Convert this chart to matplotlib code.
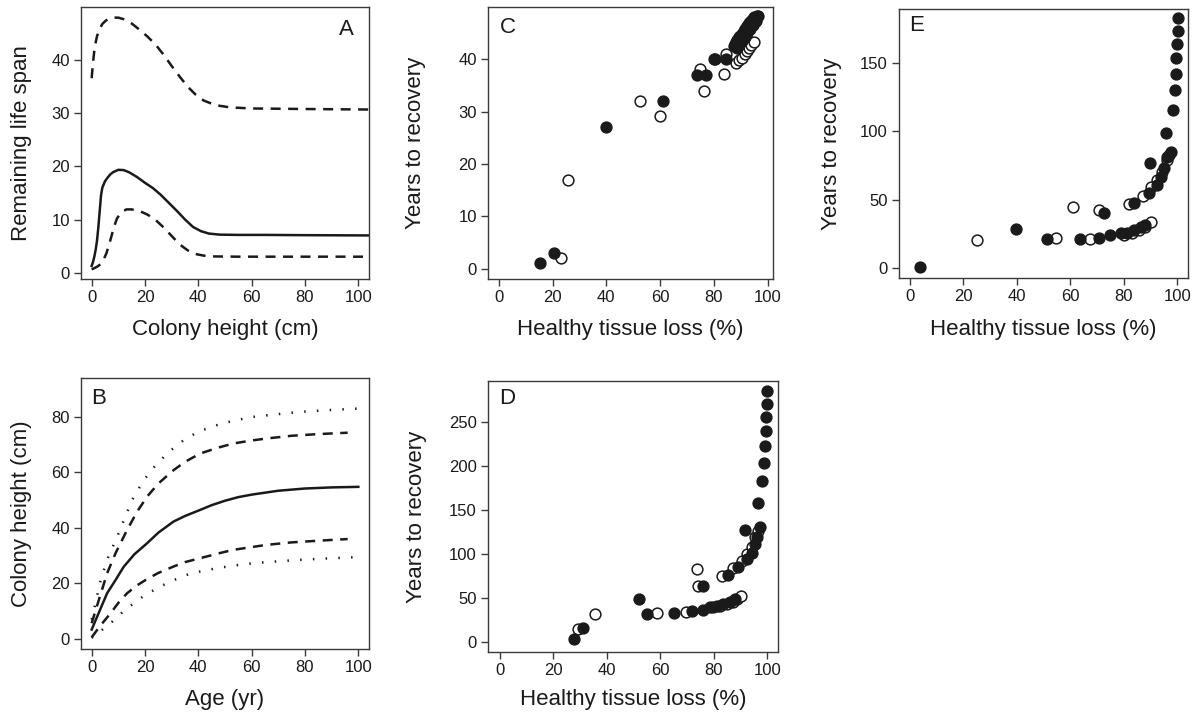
import numpy as np
import matplotlib
matplotlib.use("Agg")
import matplotlib.pyplot as plt

plt.rcParams['font.family'] = ['Liberation Sans', 'DejaVu Sans']

# Panel A: remaining life span vs colony height
a_mid_x = [0, 0.5, 1, 1.5, 2, 2.5, 3, 3.5, 4, 5, 6, 7, 8, 10, 12, 14, 17, 20, 23, 26,
           29, 32, 35, 38, 41, 44, 48, 55, 65, 80, 104]
a_mid_y = [1.25, 2, 3, 4.3, 6, 8.5, 11.5, 14.5, 16.0, 17.2, 17.9, 18.5, 18.9, 19.35, 19.3,
           18.9, 18.0, 16.9, 15.9, 14.6, 13.1, 11.6, 10.0, 8.6, 7.8, 7.35, 7.15, 7.1, 7.1,
           7.05, 7.0]
a_up_x = [0, 0.5, 1, 1.5, 2, 3, 4, 5, 6, 8, 10, 12, 15, 18, 21, 24, 27, 30, 33, 36, 39,
          42, 45, 48, 52, 60, 80, 104]
a_up_y = [36.6, 39.5, 41.8, 43.3, 44.5, 45.9, 46.8, 47.3, 47.7, 48.0, 48.0, 47.7, 46.9,
          45.7, 44.4, 42.9, 41.0, 38.9, 36.9, 35.0, 33.5, 32.4, 31.8, 31.4, 31.1, 30.9,
          30.8, 30.7]
a_lo_x = [0, 2, 3.4, 4.5, 5.5, 6.5, 7.5, 8.5, 9.5, 11, 13, 15, 18, 21, 24, 27, 30, 33,
          36, 39, 42, 46, 55, 104]
a_lo_y = [0.6, 1.1, 1.6, 2.5, 3.6, 5.2, 7.0, 8.8, 10.2, 11.3, 11.9, 11.9, 11.6, 10.9,
          9.9, 8.5, 6.9, 5.3, 4.2, 3.5, 3.2, 3.05, 3.0, 3.0]

# Panel B: colony height vs age
b_mid_x = [0, 3, 5.8, 9, 12, 16, 20.8, 25, 30.7, 35, 40.7, 45, 50, 55, 60, 70, 80, 90, 100]
b_mid = [3.4, 10.2, 16.5, 21.3, 26, 30.5, 34.5, 38.3, 42.3, 44.3, 46.5, 48.2, 49.8,
         51.1, 52, 53.4, 54.2, 54.6, 54.8]
b_dot_up_x = [0, 3.4, 6, 9.6, 13, 15.8, 20, 24.5, 30, 34.5, 40, 46.9, 53, 60.6, 70, 78, 90, 100]
b_dot_up = [7, 21.3, 29, 36.9, 45, 51.3, 57.8, 63.2, 68.2, 71.6, 74.7, 77, 78.6, 80, 81,
            81.8, 82.5, 83]
b_dash_up_x = [0, 3, 5.8, 9, 13.3, 17, 20.8, 25, 30.7, 35, 40.7, 47, 53, 60, 65.5, 75, 85, 96]
b_dash_up = [5.7, 15, 23.7, 31, 39.3, 45.8, 51.3, 56, 60.8, 63.8, 66.8, 68.8, 70.4, 71.5,
             72.2, 73.2, 73.8, 74.3]
b_dash_lo_x = [0, 3, 7.1, 10, 13.3, 17, 20.8, 25, 30.7, 35, 40.7, 47, 53, 60, 65.5, 75, 85, 96]
b_dash_lo = [0.6, 4.5, 9.3, 13, 16.5, 19.3, 21.6, 23.8, 26.1, 27.7, 29.1, 30.7, 32.1,
             33.1, 33.9, 34.8, 35.4, 36]
b_dot_lo_x = [0, 3, 7.1, 11, 15.8, 20, 25.7, 30, 35.7, 40, 46.9, 53, 60.6, 70, 78, 90, 100]
b_dot_lo = [0.4, 2.6, 5.7, 9.2, 12.9, 15.8, 18.9, 20.9, 23.1, 24.2, 25.5, 26.4, 27.3,
            28, 28.5, 29.1, 29.5]

# Panel C
c_fill_x = [15.5, 20.6, 39.8, 61, 73.6, 77.2, 80.4, 84.4,
            87.5, 87.9, 88.3, 88.7, 89.1, 89.5, 89.9, 90.3, 90.7, 91.1, 91.5, 91.9, 92.3,
            92.7, 93.1, 93.5, 93.9, 94.3, 94.7, 95.1, 95.5, 95.9, 96.3,
            88.5, 89.5, 90.5, 91.5, 92.5, 93.5, 94.5, 95.5]
c_fill_y = [1, 3, 27, 32.1, 37, 37, 40, 40,
            42.6, 43, 43.3, 43.6, 43.9, 44.2, 44.5, 44.8, 45.1, 45.4, 45.7, 46, 46.3,
            46.6, 46.9, 47.2, 47.4, 47.6, 47.8, 48, 48.1, 48.2, 48.3,
            42.2, 42.8, 43.5, 44.2, 45, 45.8, 46.6, 47.3]
c_open_x = [23.3, 25.9, 52.6, 60.1, 74.7, 76.3, 80, 83.8, 84.4, 88.2, 89.5, 90.5, 91.5,
            92.3, 93.2, 94, 94.8]
c_open_y = [2, 17, 32, 29.1, 38.1, 34, 40, 37.1, 41, 39.2, 39.8, 40.3, 41,
            41.6, 42.2, 42.8, 43.3]

# Panel D
d_fill_x = [27.7, 30.9, 52.1, 54.9, 65.2, 71.7, 75.8, 76.1, 78.6, 81, 83.5, 86, 87.9,
            85.4, 89.2, 91.6, 92.3, 94.1, 95.4, 96.3, 97.3, 96.4, 97.9, 98.9, 99.1,
            99.4, 99.5, 99.8, 99.8]
d_fill_y = [3.8, 15.9, 49.2, 32.2, 33.3, 35.2, 37.1, 64.4, 39.8, 41.7, 43.6, 46.2, 49.2,
            76.5, 85.2, 128, 94.7, 102, 111.7, 119.3, 130.7, 158.3, 183.7, 203.8, 223.1,
            240.5, 255.7, 270.8, 285.2]
d_open_x = [29.3, 35.5, 58.6, 69.6, 73.6, 74.2, 79.8, 82.3, 84.8, 87.3, 88.5, 90.1,
            82.9, 87.3, 90.4, 92.3, 94.1, 95.4, 96.6]
d_open_y = [15.2, 32.2, 33, 34.8, 83.3, 64.4, 39.8, 40.9, 43.6, 45.5, 49.2, 53,
            75.8, 84.1, 92.8, 100.4, 108, 119.3, 126.9]

# Panel E
e_fill_x = [4, 39.8, 51.3, 63.5, 70.6, 74.8, 78.8, 81.3, 83.8, 86.3, 88.1, 72.5, 83.8,
            89.4, 89.8, 92.3, 93.8, 95, 96.3, 97.5, 95.9, 98.5, 99, 99.4, 99.6, 100,
            100.3, 100.3]
e_fill_y = [1.2, 28.9, 21.1, 21.1, 21.8, 24.3, 25.5, 26, 27.9, 30.3, 31.6, 40, 47.3,
            54.6, 77, 60.7, 66.7, 72.8, 81.3, 85, 98.3, 115.3, 129.9, 141.5, 153.6, 163.3,
            173, 182.8]
e_open_x = [25.3, 54.6, 60.9, 67.5, 70.9, 80, 83.1, 85.6, 88.1, 90, 81.9, 87.1, 90,
            92.5, 94.4, 96.3, 96.9]
e_open_y = [20.6, 21.8, 44.9, 21.6, 42.5, 24.3, 26, 27.9, 30.3, 34, 46.8, 52.7, 59.5,
            64.3, 70.4, 78.9, 82.5]

W, H = 1202, 715
fig = plt.figure(figsize=(W / 100, H / 100), dpi=100)


def make_ax(px_left, px_top, px_right, px_bottom):
    ax = fig.add_axes([px_left / W, 1 - px_bottom / H,
                       (px_right - px_left) / W, (px_bottom - px_top) / H])
    for s in ax.spines.values():
        s.set_color('#3a3a3a')
        s.set_linewidth(1.0)
    ax.tick_params(direction='out', length=5, width=1.0, color='#3a3a3a',
                   labelsize=12, pad=3, labelcolor='#1a1a1a')
    ax.set_xticks([0, 20, 40, 60, 80, 100])
    return ax


def labels(ax, xl, yl, xfrac, yfrac, letter, lx, ly):
    ax.set_xlabel(xl, fontsize=16, va='center', color='#1a1a1a')
    ax.set_ylabel(yl, fontsize=16, va='center', color='#1a1a1a')
    ax.xaxis.set_label_coords(0.5, xfrac)
    ax.yaxis.set_label_coords(yfrac, 0.5)
    ax.text(lx, ly, letter, transform=ax.transAxes, fontsize=16,
            ha='center', va='center', color='#1a1a1a')


dash = (0, (4, 3))
dot = (0, (0.6, 4.5))
lw = 1.8
k = '#1a1a1a'

# A
ax = make_ax(81, 7, 369, 279)
ax.plot(a_mid_x, a_mid_y, color=k, lw=lw)
ax.plot(a_up_x, a_up_y, color=k, lw=lw, ls=dash)
ax.plot(a_lo_x, a_lo_y, color=k, lw=lw, ls=dash)
ax.set_xlim(-4, 104)
ax.set_ylim(-1.2, 50)
ax.set_yticks([0, 10, 20, 30, 40])
labels(ax, 'Colony height (cm)', 'Remaining life span', -0.1875, -0.205, 'A', 0.92, 0.919)

# B
ax = make_ax(81, 378, 369, 649)
ax.plot(b_mid_x, b_mid, color=k, lw=lw)
ax.plot(b_dot_up_x, b_dot_up, color=k, lw=lw, ls=dot)
ax.plot(b_dash_up_x, b_dash_up, color=k, lw=lw, ls=dash)
ax.plot(b_dash_lo_x, b_dash_lo, color=k, lw=lw, ls=dash)
ax.plot(b_dot_lo_x, b_dot_lo, color=k, lw=lw, ls=dot)
ax.set_xlim(-4, 104)
ax.set_ylim(-3.6, 94)
ax.set_yticks([0, 20, 40, 60, 80])
labels(ax, 'Age (yr)', 'Colony height (cm)', -0.188, -0.205, 'B', 0.0625, 0.926)

ms = 60


def pts(ax, fx, fy, ox, oy):
    ax.scatter(ox, oy, s=ms, facecolor='white', edgecolor=k, linewidth=1.1, zorder=3)
    ax.scatter(fx, fy, s=ms, facecolor=k, edgecolor=k, linewidth=1.1, zorder=4)


# C
ax = make_ax(488, 7, 773, 279)
pts(ax, c_fill_x, c_fill_y, c_open_x, c_open_y)
ax.set_xlim(-4, 102)
ax.set_ylim(-2, 50)
ax.set_yticks([0, 10, 20, 30, 40])
labels(ax, 'Healthy tissue loss (%)', 'Years to recovery', -0.1875, -0.253, 'C', 0.07, 0.923)

# D
ax = make_ax(488, 381, 778, 652)
pts(ax, d_fill_x, d_fill_y, d_open_x, d_open_y)
ax.set_xlim(-4.5, 104)
ax.set_ylim(-11, 297)
ax.set_yticks([0, 50, 100, 150, 200, 250])
labels(ax, 'Healthy tissue loss (%)', 'Years to recovery', -0.177, -0.248, 'D', 0.066, 0.934)

# E
ax = make_ax(899, 9, 1188, 278)
pts(ax, e_fill_x, e_fill_y, e_open_x, e_open_y)
ax.set_xlim(-4, 104)
ax.set_ylim(-7, 189)
ax.set_yticks([0, 50, 100, 150])
labels(ax, 'Healthy tissue loss (%)', 'Years to recovery', -0.193, -0.235, 'E', 0.062, 0.94)

fig.savefig('out.png', dpi=100)
